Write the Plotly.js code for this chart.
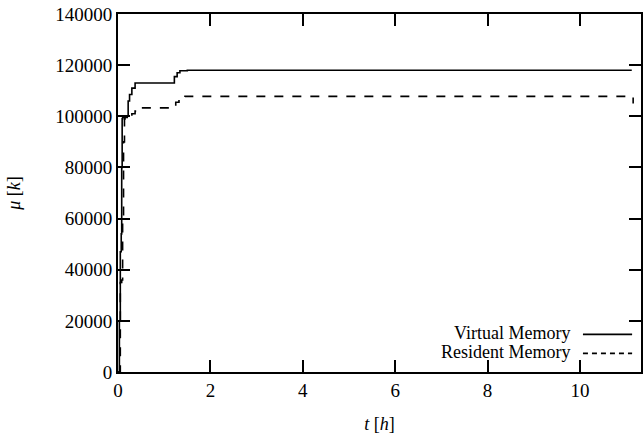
<!DOCTYPE html>
<html>
<head>
<meta charset="utf-8">
<script src="https://cdn.plot.ly/plotly-3.0.1.min.js"></script>
<style>
  html, body { margin: 0; padding: 0; background: #fff; }
  #chart { width: 643px; height: 434px; }
</style>
</head>
<body>
<div id="chart"></div>
<script>
// Memory usage of the process over time (hours vs kilobytes)
const virtualT = [0, 0.03, 0.05, 0.07, 0.08, 0.09, 0.1, 0.15, 0.2, 0.22, 0.25, 0.3, 0.37, 1.18, 1.22, 1.28, 1.34, 1.5, 11.12];
const virtualMem = [0, 20000, 47000, 54000, 80000, 99000, 99500, 99500, 100000, 106000, 108500, 111000, 113000, 113000, 115500, 117000, 117800, 118000, 118000];

const residentT = [0, 0.05, 0.08, 0.1, 0.12, 0.14, 0.2, 0.3, 0.37, 0.45, 1.18, 1.25, 1.32, 1.45, 11.1, 11.15];
const residentMem = [0, 35000, 36000, 60000, 90000, 99000, 100000, 101000, 102000, 103300, 103300, 105500, 107000, 107800, 107800, 105000];

const xTicks = [0, 2, 4, 6, 8, 10];
const yTicks = [0, 20000, 40000, 60000, 80000, 100000, 120000, 140000];

const seriesNames = ['Virtual Memory', 'Resident Memory'];
const seriesDash = ['solid', 'dash'];

const FONT = 'Liberation Serif, Times New Roman, serif';

const traces = [
  { x: virtualT, y: virtualMem, name: seriesNames[0], mode: 'lines',
    line: { color: '#000', width: 1.6, dash: seriesDash[0], shape: 'hv' } },
  { x: residentT, y: residentMem, name: seriesNames[1], mode: 'lines',
    line: { color: '#000', width: 1.6, dash: seriesDash[1], shape: 'hv' } }
];

// Legend drawn with text on the left and the line key on the right
const keyY = [0.109, 0.056];
const annotations = seriesNames.map((n, i) => ({
  xref: 'paper', yref: 'paper', x: 0.868, y: keyY[i],
  xanchor: 'right', yanchor: 'middle', text: n, showarrow: false,
  font: { family: FONT, size: 18, color: '#000' }
}));
const shapes = seriesNames.map((n, i) => ({
  type: 'line', xref: 'paper', yref: 'paper',
  x0: 0.889, x1: 0.983, y0: keyY[i] - 0.004, y1: keyY[i] - 0.004,
  line: { color: '#000', width: 1.6, dash: seriesDash[i] === 'dash' ? '5px,4px' : 'solid' }
}));

const axisCommon = {
  showgrid: false, zeroline: false,
  showline: true, linecolor: '#000', linewidth: 2,
  mirror: 'allticks', ticks: 'inside', ticklen: 12, tickwidth: 2, tickcolor: '#000',
  tickfont: { family: FONT, size: 19, color: '#000' }
};

const layout = {
  width: 643, height: 434,
  margin: { l: 118, r: 2, t: 14, b: 62 },
  paper_bgcolor: '#fff', plot_bgcolor: '#fff',
  showlegend: false,
  xaxis: Object.assign({}, axisCommon, {
    range: [0, 11.32], tickvals: xTicks, ticktext: xTicks.map(String),
    title: { text: '<i>t</i> [<i>h</i>]', font: { family: FONT, size: 18, color: '#000' }, standoff: 18 }
  }),
  yaxis: Object.assign({}, axisCommon, {
    range: [0, 140000], tickvals: yTicks, ticktext: yTicks.map(String),
    title: { text: '<i>μ</i> [<i>k</i>]', font: { family: FONT, size: 18, color: '#000' }, standoff: 30 }
  }),
  annotations: annotations,
  shapes: shapes
};

Plotly.newPlot('chart', traces, layout, { staticPlot: true, displayModeBar: false });
</script>
</body>
</html>
